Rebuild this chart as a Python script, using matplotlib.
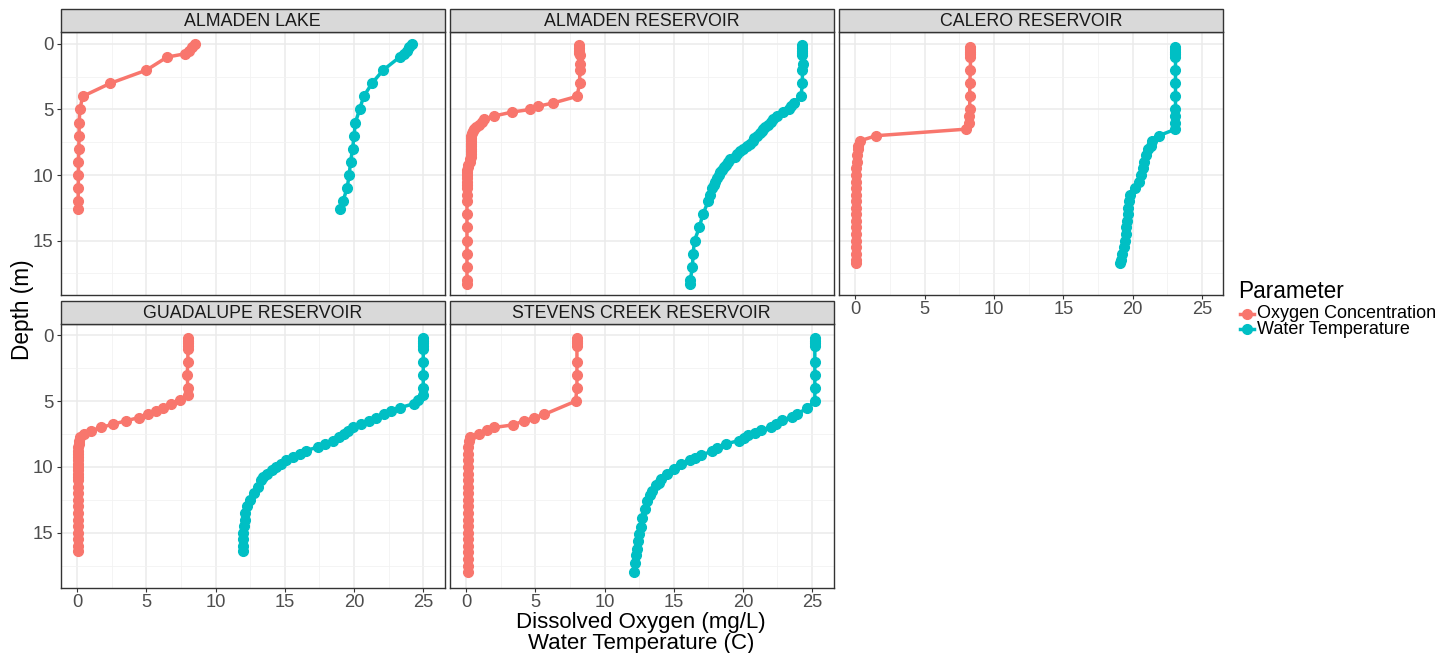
import matplotlib
matplotlib.use("Agg")
import matplotlib.pyplot as plt
from matplotlib.lines import Line2D
from matplotlib.patches import Rectangle
from matplotlib.ticker import MultipleLocator

plt.rcParams['font.family'] = ['Liberation Sans', 'DejaVu Sans']

# Profile data: depth (m), dissolved oxygen (mg/L), water temperature (C)
almaden_lake_depth = [0.0, 0.25, 0.5, 0.75, 1.0, 2.0, 3.0, 4.0, 5.0, 6.0, 7.0, 8.0,
                      9.0, 10.0, 11.0, 12.0, 12.6]
almaden_lake_do = [8.5, 8.3, 8.1, 7.8, 6.5, 5.0, 2.4, 0.4, 0.2, 0.15, 0.14, 0.12,
                   0.1, 0.1, 0.08, 0.08, 0.08]
almaden_lake_temp = [24.2, 24.0, 23.8, 23.6, 23.3, 22.1, 21.3, 20.7, 20.4, 20.1, 20.0, 19.9,
                     19.75, 19.65, 19.5, 19.2, 19.0]

almaden_res_depth = [0.1, 0.3, 0.5, 0.7, 0.85, 1.5, 2.0, 3.0, 4.0, 4.5, 4.75, 5.0, 5.2,
                     5.5, 5.75, 5.95, 6.15, 6.35, 6.5, 6.65, 6.8, 7.0, 7.2, 7.4, 7.6,
                     7.8, 8.0, 8.2, 8.4, 8.6, 8.8, 9.0, 9.2, 9.4, 9.6, 9.8, 10.0, 10.25,
                     10.5, 10.75, 11.0, 11.5, 12.0, 13.0, 14.0, 15.0, 16.0, 17.0, 18.0, 18.35]
almaden_res_do = [8.15, 8.15, 8.15, 8.15, 8.2, 8.2, 8.2, 8.2, 8.0, 6.3, 5.2, 4.6, 3.3,
                  2.0, 1.3, 1.1, 0.9, 0.7, 0.55, 0.45, 0.4, 0.35, 0.35, 0.36, 0.36,
                  0.36, 0.35, 0.35, 0.34, 0.32, 0.28, 0.24, 0.15, 0.12, 0.08, 0.05, 0.03, 0.03,
                  0.03, 0.04, 0.05, 0.05, 0.05, 0.05, 0.05, 0.05, 0.05, 0.05, 0.05, 0.05]
almaden_res_temp = [24.3, 24.3, 24.3, 24.3, 24.3, 24.35, 24.3, 24.3, 24.2, 23.7, 23.5, 23.3, 22.9,
                    22.5, 22.2, 22.0, 21.8, 21.6, 21.45, 21.35, 21.2, 21.0, 20.8, 20.7, 20.5,
                    20.3, 20.0, 19.8, 19.6, 19.4, 19.1, 18.9, 18.75, 18.6, 18.5, 18.35, 18.25, 18.1,
                    18.0, 17.9, 17.8, 17.65, 17.5, 17.1, 16.85, 16.5, 16.4, 16.35, 16.2, 16.2]

calero_depth = [0.2, 0.4, 0.6, 0.8, 1.0, 2.0, 3.0, 4.0, 5.0, 5.5, 6.0, 6.5, 7.0, 7.4,
                7.75, 8.0, 8.5, 9.0, 9.5, 10.0, 10.5, 11.0, 11.5, 12.0, 12.5, 13.0, 13.5,
                14.0, 14.5, 15.0, 15.5, 16.0, 16.5, 16.75]
calero_do = [8.3, 8.3, 8.3, 8.3, 8.3, 8.3, 8.25, 8.25, 8.25, 8.2, 8.2, 8.0, 1.5, 0.3,
             0.2, 0.15, 0.1, 0.08, 0.06, 0.05, 0.05, 0.05, 0.05, 0.05, 0.05, 0.05, 0.05,
             0.05, 0.05, 0.05, 0.05, 0.05, 0.05, 0.05]
calero_temp = [23.1, 23.1, 23.1, 23.1, 23.1, 23.1, 23.1, 23.1, 23.1, 23.1, 23.1, 23.1, 21.9, 21.4,
               21.3, 21.15, 21.0, 20.85, 20.75, 20.6, 20.5, 20.15, 19.85, 19.75, 19.7, 19.65, 19.6,
               19.55, 19.5, 19.45, 19.35, 19.25, 19.15, 19.1]

guadalupe_depth = [0.2, 0.4, 0.6, 0.8, 1.0, 2.0, 3.0, 4.0, 4.5, 4.9, 5.2, 5.5, 5.75, 6.0,
                   6.25, 6.5, 6.75, 7.0, 7.25, 7.5, 7.75, 8.0, 8.25, 8.5, 8.75, 9.0, 9.25,
                   9.5, 9.75, 10.0, 10.25, 10.5, 10.75, 11.0, 11.5, 12.0, 12.5, 13.0, 13.5,
                   14.0, 14.5, 15.0, 15.5, 16.0, 16.4]
guadalupe_do = [8.0, 8.0, 8.0, 8.0, 8.0, 8.0, 7.95, 8.0, 8.0, 7.4, 6.8, 6.2, 5.7, 5.1,
                4.45, 3.5, 2.6, 1.7, 1.0, 0.48, 0.22, 0.15, 0.12, 0.1, 0.1, 0.1, 0.1,
                0.1, 0.1, 0.1, 0.1, 0.1, 0.1, 0.1, 0.1, 0.1, 0.1, 0.1, 0.1,
                0.1, 0.1, 0.1, 0.1, 0.1, 0.1]
guadalupe_temp = [25.0, 25.0, 25.0, 25.0, 25.0, 25.0, 25.0, 25.0, 25.0, 24.6, 24.3, 23.3, 22.7, 22.2,
                  21.6, 21.1, 20.5, 19.95, 19.55, 19.25, 18.9, 18.5, 17.9, 17.4, 16.5, 16.1, 15.6,
                  15.1, 14.75, 14.4, 14.05, 13.7, 13.45, 13.25, 13.05, 12.75, 12.5, 12.3, 12.15,
                  12.1, 12.05, 12.0, 12.0, 12.0, 12.0]

stevens_do_depth = [0.2, 0.4, 0.6, 0.8, 2.0, 3.0, 4.0, 5.0, 6.0, 6.25, 6.5, 6.8, 7.0, 7.2,
                    7.5, 7.7, 8.0, 8.5, 9.0, 9.5, 10.0, 10.5, 11.0, 11.5, 12.0, 12.5, 13.0,
                    13.5, 14.0, 14.5, 15.0, 15.5, 16.0, 16.5, 17.0, 17.5, 18.0]
stevens_do = [8.0, 8.0, 8.0, 8.0, 8.0, 8.0, 8.0, 7.9, 5.65, 4.9, 4.15, 3.4, 2.0, 1.5,
              0.9, 0.3, 0.17, 0.12, 0.1, 0.1, 0.1, 0.1, 0.1, 0.1, 0.1, 0.1, 0.1,
              0.1, 0.1, 0.1, 0.1, 0.1, 0.1, 0.1, 0.1, 0.1, 0.1]
stevens_temp_depth = [0.2, 0.4, 0.6, 0.8, 2.0, 3.0, 4.0, 5.0, 5.55, 6.0, 6.2, 6.45, 6.7, 7.0,
                      7.2, 7.4, 7.6, 7.8, 8.0, 8.25, 8.55, 8.8, 9.1, 9.3, 9.5, 9.8, 10.15,
                      10.5, 10.9, 11.2, 11.4, 11.8, 12.1, 12.6, 13.2, 13.9, 14.6, 15.1,
                      15.65, 16.2, 16.7, 17.3, 17.95]
stevens_temp = [25.2, 25.2, 25.2, 25.2, 25.2, 25.2, 25.2, 25.2, 24.6, 23.9, 23.55, 22.8, 22.4, 22.0,
                21.3, 20.9, 20.4, 20.05, 19.7, 18.75, 18.15, 17.8, 16.95, 16.5, 16.2, 15.5, 15.0,
                14.5, 14.1, 13.9, 13.7, 13.45, 13.3, 13.1, 12.9, 12.7, 12.6, 12.5,
                12.4, 12.35, 12.3, 12.2, 12.1]

lake_names = ["ALMADEN LAKE", "ALMADEN RESERVOIR", "CALERO RESERVOIR",
              "GUADALUPE RESERVOIR", "STEVENS CREEK RESERVOIR"]
lake_series = [
    (almaden_lake_depth, almaden_lake_do, almaden_lake_depth, almaden_lake_temp),
    (almaden_res_depth, almaden_res_do, almaden_res_depth, almaden_res_temp),
    (calero_depth, calero_do, calero_depth, calero_temp),
    (guadalupe_depth, guadalupe_do, guadalupe_depth, guadalupe_temp),
    (stevens_do_depth, stevens_do, stevens_temp_depth, stevens_temp),
]
parameter_labels = ["Oxygen Concentration", "Water Temperature"]

DO_COLOR = "#F8766D"
TEMP_COLOR = "#00BFC4"
LW, MS = 2.5, 7.0
W, H = 1440, 653

fig = plt.figure(figsize=(W / 100, H / 100), dpi=100)

cols = [(60.5, 444.7), (449.7, 833.5), (838.8, 1223.3)]
rows = [((9.3, 32.3), (32.3, 295.3)), ((301.3, 323.7), (323.7, 587.7))]


def frac_box(x0, x1, y0, y1):
    return [x0 / W, 1 - y1 / H, (x1 - x0) / W, (y1 - y0) / H]


for i, name in enumerate(lake_names):
    r, c = divmod(i, 3)
    (sy0, sy1), (py0, py1) = rows[r]
    x0, x1 = cols[c]

    ax = fig.add_axes(frac_box(x0, x1, py0, py1))
    do_depth, do_vals, t_depth, t_vals = lake_series[i]
    ax.plot(do_vals, do_depth, color=DO_COLOR, lw=LW, marker="o", ms=MS,
            mec=DO_COLOR, solid_capstyle="butt", zorder=3)
    ax.plot(t_vals, t_depth, color=TEMP_COLOR, lw=LW, marker="o", ms=MS,
            mec=TEMP_COLOR, solid_capstyle="butt", zorder=3)

    ax.set_xlim(-1.2, 26.55)
    ax.set_ylim(19.18, -0.89)
    ax.xaxis.set_major_locator(MultipleLocator(5))
    ax.xaxis.set_minor_locator(MultipleLocator(2.5))
    ax.yaxis.set_major_locator(MultipleLocator(5))
    ax.yaxis.set_minor_locator(MultipleLocator(2.5))
    ax.grid(which="major", color="#EBEBEB", lw=1.1, zorder=0)
    ax.grid(which="minor", color="#F2F2F2", lw=0.6, zorder=0)
    ax.set_axisbelow(True)
    for sp in ax.spines.values():
        sp.set_color("#333333")
        sp.set_linewidth(1.0)

    show_x = (r == 1) or (c == 2)
    show_y = (c == 0)
    ax.tick_params(which="minor", length=0)
    ax.tick_params(which="major", length=3, width=0.8, color="#333333",
                   labelcolor="#4D4D4D", labelsize=13.4, pad=2)
    ax.tick_params(axis="x", pad=1.2, labelsize=13.2)
    ax.tick_params(axis="x", bottom=show_x, labelbottom=show_x)
    ax.tick_params(axis="y", left=show_y, labelleft=show_y)

    sax = fig.add_axes(frac_box(x0, x1, sy0, sy1))
    sax.set_xlim(0, 1)
    sax.set_ylim(0, 1)
    sax.axis("off")
    sax.add_patch(Rectangle((0, 0), 1, 1, transform=sax.transAxes, facecolor="#D9D9D9",
                            edgecolor="#333333", lw=1.0, clip_on=False))
    sax.text(0.5, 0.47, name, ha="center", va="center", fontsize=12.8, color="#1A1A1A")

# axis titles
fig.text(23 / W, 1 - 310 / H, "Depth (m)", rotation=90, ha="center", va="center",
         fontsize=16.3, color="black")
fig.text(641 / W, 1 - 628 / H, "Dissolved Oxygen (mg/L)", ha="center", va="baseline",
         fontsize=16.0, color="black")
fig.text(641 / W, 1 - 648.5 / H, "Water Temperature (C)", ha="center", va="baseline",
         fontsize=16.0, color="black")

# legend
fig.text(1238 / W, 1 - 292 / H, "Parameter", ha="left", va="center", fontsize=16.3)
for k, (label, col) in enumerate(zip(parameter_labels, [DO_COLOR, TEMP_COLOR])):
    y = 1 - (313.5 + 15.5 * k) / H
    fig.add_artist(Line2D([1240 / W, 1254 / W], [y, y], transform=fig.transFigure,
                          color=col, lw=LW))
    fig.add_artist(Line2D([1247 / W], [y], transform=fig.transFigure, color=col,
                          marker="o", ms=MS, lw=0))
    fig.text(1257 / W, y, label, ha="left", va="center", fontsize=13.0)

fig.savefig("out.png", dpi=100)
